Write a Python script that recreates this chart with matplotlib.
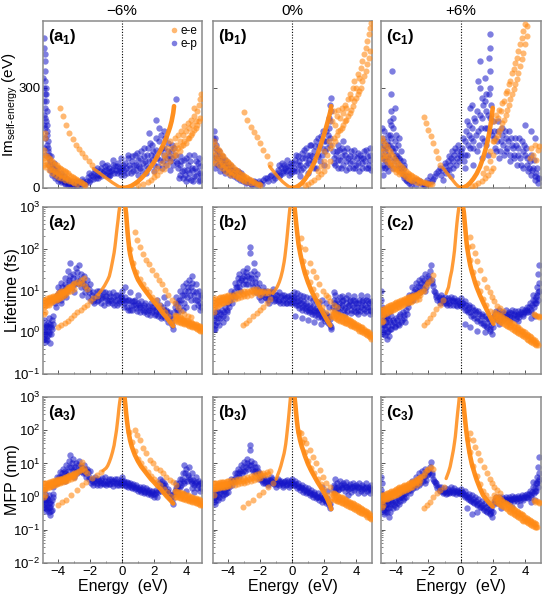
import matplotlib
matplotlib.use("Agg")
import matplotlib.pyplot as plt
from matplotlib.lines import Line2D
from matplotlib.ticker import LogLocator, NullFormatter, FixedLocator
import matplotlib.transforms as mtransforms

plt.rcParams['font.family'] = ['Liberation Sans', 'DejaVu Sans']
plt.rcParams['mathtext.fontset'] = 'custom'
plt.rcParams['mathtext.rm'] = 'Liberation Sans'
plt.rcParams['mathtext.bf'] = 'Liberation Sans:bold'

# ---------------- data: (energy eV, value) ----------------
COLUMNS = ["\u22126%", "0%", "+6%"]
ROW_LABELS = ["Im$_{\\mathregular{self\u2010energy}}$ (eV)", "Lifetime (fs)", "MFP (nm)"]
SERIES = ["e-e", "e-p"]

# ===== row 1: Im self-energy =====
A1_EE_L = [(-1.8,58),(-1.6,51),(-1.4,44),(-1.2,37),(-1.0,30),(-0.8,23),(-0.6,16),(-0.4,10),(-0.2,4),(0.0,1)]
A1_EE_R = [(0.0,1),(0.2,1),(0.4,3),(0.6,7),(0.8,13),(1.0,20),(1.2,29),(1.4,39),(1.6,51),(1.8,64),(2.0,78),(2.2,94),(2.4,112),(2.6,132),(2.8,155),(2.9,168),(3.0,182),(3.1,200),(3.2,225),(3.25,245)]
A1_EE = [(-4.9,115),(-4.9,90),(-4.9,70),(-4.85,150),(-4.85,165),(-4.8,100),(-4.8,80),(-4.8,62),(-4.7,95),(-4.7,72),(-4.6,90),(-4.6,68),(-4.6,54),(-4.5,86),(-4.5,64),(-4.4,80),(-4.4,58),(-4.4,46),(-4.3,76),(-4.3,54),(-4.2,72),(-4.2,50),(-4.2,40),(-4.1,68),(-4.1,47),(-4.0,64),(-4.0,44),(-4.0,34),(-3.9,60),(-3.9,41),(-3.8,57),(-3.8,38),(-3.8,29),(-3.7,54),(-3.7,35),(-3.6,50),(-3.6,32),(-3.6,25),(-3.5,47),(-3.5,29),(-3.4,44),(-3.4,26),(-3.3,40),(-3.3,22),(-3.2,37),(-3.2,20),(-3.1,34),(-3.1,18),(-3.0,30),(-3.0,15),(-2.9,27),(-2.8,24),(-2.8,12),(-2.7,21),(-2.6,18),(-2.5,15),(-2.4,12),(-2.3,10),
         (-3.9,240),(-3.7,215),(-3.5,190),(-3.3,165),(-3.1,148),(-2.9,130),(-2.7,118),(-2.5,105),(-2.3,92),(-2.1,80),(-1.9,70),
         (1.0,8),(1.3,12),(1.6,18),(1.8,25),(2.0,32),(2.2,40),(2.4,50),(2.6,58),(2.8,70),(3.0,82),(3.2,95),(2.2,60),(2.5,75),(2.7,90),(2.9,105),(3.1,120),(2.0,48),(2.6,100),(2.8,120),(3.0,140),
         (3.3,110),(3.3,150),(3.4,100),(3.4,130),(3.5,120),(3.5,160),(3.6,110),(3.6,140),(3.7,125),(3.7,170),(3.8,130),(3.8,160),(3.9,140),(3.9,185),(4.0,135),(4.0,170),(4.1,150),(4.1,195),(4.2,150),(4.2,180),(4.3,160),(4.3,205),(4.4,165),(4.4,190),(4.5,175),(4.5,215),(4.6,180),(4.6,200),(4.7,190),(4.7,230),(4.8,200),(4.8,250),(4.9,210),(4.9,265),(4.95,280),(4.5,240)]
A1_EP = [(-4.9,450),(-4.9,420),(-4.85,400),(-4.85,380),(-4.8,350),(-4.8,320),(-4.9,300),(-4.85,280),(-4.75,260),(-4.8,240),(-4.9,220),(-4.75,200),(-4.8,180),(-4.7,160),(-4.85,150),(-4.7,130),(-4.9,120),(-4.65,110),(-4.8,100),(-4.6,90),(-4.75,300),(-4.7,230),(-4.9,190),(-4.65,140),
         (-4.92,330),(-4.88,260),(-4.83,210),(-4.78,280),(-4.72,190),(-4.68,170),(-4.62,120),(-4.55,100),(-4.58,70),(-4.5,55),(-4.45,95),
         (-4.5,80),(-4.4,70),(-4.3,60),(-4.2,55),(-4.1,45),(-4.0,40),(-3.9,35),(-3.8,30),(-3.7,25),(-3.6,22),(-3.5,18),(-3.4,15),(-3.3,14),(-3.2,12),(-4.4,40),(-4.2,30),(-4.0,22),(-3.8,18),(-3.6,14),(-3.4,10),
         (-4.35,45),(-4.25,75),(-4.15,35),(-4.05,60),(-3.95,28),(-3.85,45),(-3.75,20),(-3.65,35),(-3.55,12),(-3.45,28),(-3.35,22),(-3.25,8),(-3.15,20),
         (-3.0,10),(-2.8,8),(-2.6,12),(-2.4,15),(-2.2,20),(-2.0,25),(-1.8,35),(-1.6,40),(-2.9,20),(-2.5,28),(-2.1,45),(-1.7,55),
         (-3.1,6),(-2.95,15),(-2.85,5),(-2.7,18),(-2.55,8),(-2.45,22),(-2.3,12),(-2.15,32),(-2.05,18),(-1.95,40),(-1.85,28),(-1.75,45),(-1.65,30),(-1.55,60),(-1.45,40),
         (-1.4,50),(-1.3,60),(-1.2,45),(-1.1,65),(-1.0,55),(-0.9,40),(-0.8,60),(-0.7,50),(-0.6,70),(-0.5,45),(-0.4,55),(-0.3,65),(-0.2,50),(-0.1,40),(0.0,60),(-1.5,30),(-0.8,35),(-0.1,90),
         (-1.35,35),(-1.25,75),(-1.15,50),(-1.05,40),(-0.95,70),(-0.85,50),(-0.75,40),(-0.65,55),(-0.55,85),(-0.45,65),(-0.35,45),(-0.25,75),(-0.15,60),(-0.05,50),
         (0.1,55),(0.2,75),(0.3,45),(0.4,90),(0.5,60),(0.6,80),(0.7,50),(0.8,100),(0.9,70),(1.0,85),(1.1,60),(1.2,110),(1.3,75),(1.4,95),(1.5,65),(1.6,120),(1.7,80),(1.8,100),(1.9,130),(2.0,70),(2.1,115),(2.2,90),(2.3,140),(2.4,85),(2.5,120),(2.6,100),(2.7,150),(2.8,90),(2.9,110),(3.0,80),(3.1,130),(3.2,70),(3.3,100),(2.15,205),(2.3,180),(3.4,265),(1.0,40),(1.5,45),(2.0,50),(2.5,60),(3.0,55),
         (0.05,70),(0.15,40),(0.25,60),(0.35,100),(0.45,70),(0.55,45),(0.65,95),(0.75,70),(0.85,55),(0.95,105),(1.05,65),(1.15,90),(1.25,50),(1.35,120),(1.45,80),(1.55,100),(1.65,60),(1.75,135),(1.85,85),(1.95,110),(2.05,95),(2.15,150),(2.25,65),(2.35,110),(2.45,160),(2.55,80),(2.65,120),(2.75,70),(2.85,135),(2.95,95),(3.05,110),(3.15,90),(3.25,120),(3.35,80),(1.7,165),(2.6,170),
         (3.5,60),(3.6,40),(3.7,80),(3.8,30),(3.9,55),(4.0,20),(4.1,70),(4.2,45),(4.3,25),(4.4,60),(4.5,35),(4.6,80),(4.7,50),(4.8,20),(4.9,65),(4.95,40),(3.6,95),(4.0,90),(4.5,100),
         (3.45,75),(3.55,30),(3.65,70),(3.75,50),(3.85,85),(3.95,40),(4.05,55),(4.15,30),(4.25,80),(4.35,55),(4.45,20),(4.55,60),(4.65,35),(4.75,75),(4.85,45),(4.9,25),(4.2,100),(4.8,90)]

B1_EE_L = [(-1.4,64),(-1.2,52),(-1.0,40),(-0.8,29),(-0.6,19),(-0.4,11),(-0.2,4),(0.0,1)]
B1_EE_R = [(0.0,1),(0.2,1.6),(0.4,6.4),(0.6,14),(0.8,26),(1.0,40),(1.2,58),(1.4,78),(1.6,102),(1.8,130),(2.0,160),(2.2,194),(2.3,212),(2.4,230),(2.45,245)]
B1_EE = [(-4.9,140),(-4.9,110),(-4.9,85),(-4.8,130),(-4.8,100),(-4.8,75),(-4.7,120),(-4.7,92),(-4.6,115),(-4.6,88),(-4.6,68),(-4.5,108),(-4.5,82),(-4.4,100),(-4.4,76),(-4.4,60),(-4.3,95),(-4.3,70),(-4.2,88),(-4.2,65),(-4.2,52),(-4.1,82),(-4.1,60),(-4.0,78),(-4.0,56),(-4.0,45),(-3.9,72),(-3.9,52),(-3.8,68),(-3.8,48),(-3.8,40),(-3.7,62),(-3.7,44),(-3.6,58),(-3.6,40),(-3.5,54),(-3.5,36),(-3.4,50),(-3.4,33),(-3.3,46),(-3.3,30),(-3.2,42),(-3.2,27),(-3.1,38),(-3.1,24),(-3.0,35),(-3.0,21),(-2.9,32),(-2.8,29),(-2.8,18),(-2.7,26),(-2.6,23),(-2.6,15),(-2.5,20),(-2.4,18),(-2.3,15),(-2.2,13),(-2.1,11),(-2.0,10),
         (-3.0,229),(-2.8,205),(-2.6,184),(-2.4,168),(-2.2,152),(-2.0,135),(-1.8,115),(-1.6,95),(-1.4,72),
         (0.8,8),(1.0,12),(1.2,18),(1.4,25),(1.6,32),(1.8,42),(2.0,52),(2.2,65),(2.4,80),(1.6,50),(1.8,65),(2.0,80),(2.2,100),(2.4,120),(2.0,110),(2.3,140),
         (2.5,130),(2.5,200),(2.6,150),(2.6,230),(2.7,140),(2.7,190),(2.8,160),(2.8,215),(2.9,170),(2.9,235),(3.0,175),(3.0,210),(3.1,180),(3.1,240),(3.2,190),(3.2,225),(3.3,200),(3.3,250),(3.4,205),(3.4,240),(3.5,215),(3.5,265),(3.6,225),(3.6,280),(3.7,235),(3.7,270),(3.8,245),(3.8,300),(3.9,260),(3.9,320),(4.0,270),(4.0,300),(4.1,280),(4.1,340),(4.2,290),(4.2,330),(4.3,300),(4.3,360),(4.4,320),(4.4,380),(4.5,335),(4.5,400),(4.6,350),(4.6,420),(4.7,370),(4.7,440),(4.8,390),(4.8,460),(4.9,410),(4.9,480),(4.95,495)]
B1_EP = [(-4.9,170),(-4.9,140),(-4.85,120),(-4.8,100),(-4.75,130),(-4.7,90),(-4.6,110),(-4.5,80),(-4.4,95),(-4.3,70),(-4.2,85),(-4.1,60),(-4.0,75),(-3.9,55),(-3.8,65),(-3.7,45),(-3.6,55),(-3.5,40),(-3.4,50),(-3.3,35),(-3.2,45),(-3.1,30),(-4.8,60),(-4.5,50),(-4.2,45),(-3.9,40),
         (-4.92,150),(-4.88,90),(-4.83,150),(-4.78,75),(-4.72,115),(-4.65,70),(-4.55,95),(-4.45,65),(-4.35,85),(-4.25,55),(-4.15,75),(-4.05,50),(-3.95,65),(-3.85,45),(-3.75,55),(-3.65,35),(-3.55,50),(-3.45,30),(-3.35,45),(-3.25,25),(-3.15,35),(-3.05,20),
         (-3.0,25),(-2.8,18),(-2.6,12),(-2.4,20),(-2.2,10),(-2.0,15),(-1.8,25),(-1.6,30),(-1.4,35),(-1.2,25),
         (-2.9,15),(-2.7,25),(-2.5,10),(-2.3,18),(-2.1,22),(-1.9,12),(-1.7,30),(-1.5,22),(-1.3,40),(-1.1,30),
         (-1.0,40),(-0.9,55),(-0.8,35),(-0.7,60),(-0.6,45),(-0.5,70),(-0.4,50),(-0.3,65),(-0.2,40),(-0.1,75),(0.0,55),
         (-0.95,45),(-0.85,70),(-0.75,40),(-0.65,75),(-0.55,50),(-0.45,60),(-0.35,85),(-0.25,55),(-0.15,65),(-0.05,45),
         (0.1,60),(0.2,85),(0.3,50),(0.4,95),(0.5,70),(0.6,105),(0.7,60),(0.8,90),(0.9,120),(1.0,75),(1.1,100),(1.2,130),(1.3,80),(1.4,110),(1.5,140),(1.6,95),(1.7,125),(1.8,155),(1.9,100),(2.0,140),(2.1,170),(2.2,120),(2.3,180),(2.4,150),(2.45,230),(2.45,270),(2.4,200),(0.5,35),(1.0,45),(1.5,60),(2.0,70),
         (0.05,75),(0.15,50),(0.25,100),(0.35,70),(0.45,80),(0.55,55),(0.65,90),(0.75,115),(0.85,70),(0.95,100),(1.05,85),(1.15,130),(1.25,95),(1.35,60),(1.45,125),(1.55,100),(1.65,150),(1.75,80),(1.85,120),(1.95,170),(2.05,110),(2.15,140),(2.25,160),(2.35,130),(2.4,250),(2.3,210),
         (2.6,90),(2.7,70),(2.8,110),(2.9,60),(3.0,85),(3.1,120),(3.2,70),(3.3,100),(3.4,55),(3.5,90),(3.6,75),(3.7,110),(3.8,60),(3.9,95),(4.0,70),(4.1,105),(4.2,50),(4.3,90),(4.4,75),(4.5,110),(4.6,60),(4.7,95),(4.8,70),(4.9,100),(4.95,55),(3.2,140),(2.9,130),
         (2.55,110),(2.65,75),(2.75,100),(2.85,85),(2.95,115),(3.05,60),(3.15,95),(3.25,110),(3.35,80),(3.45,120),(3.55,60),(3.65,95),(3.75,80),(3.85,115),(3.95,60),(4.05,90),(4.15,75),(4.25,100),(4.35,60),(4.45,90),(4.55,80),(4.65,115),(4.75,60),(4.85,85),(4.9,120)]

C1_EE_L = [(-1.1,60),(-0.9,48),(-0.7,36),(-0.5,24),(-0.3,12),(-0.1,3),(0.0,1)]
C1_EE_R = [(0.0,1),(0.2,2),(0.4,7),(0.6,16),(0.8,28),(1.0,43),(1.2,63),(1.4,90),(1.6,124),(1.7,145),(1.8,170),(1.9,200),(2.0,240)]
C1_EE = [(-4.9,150),(-4.9,120),(-4.9,95),(-4.8,140),(-4.8,110),(-4.8,88),(-4.7,132),(-4.7,100),(-4.6,125),(-4.6,95),(-4.6,78),(-4.5,118),(-4.5,88),(-4.4,110),(-4.4,82),(-4.4,68),(-4.3,102),(-4.3,76),(-4.2,95),(-4.2,70),(-4.2,58),(-4.1,88),(-4.1,64),(-4.0,82),(-4.0,58),(-4.0,48),(-3.9,76),(-3.9,54),(-3.8,70),(-3.8,50),(-3.8,42),(-3.7,65),(-3.7,46),(-3.6,60),(-3.6,42),(-3.5,55),(-3.5,38),(-3.4,50),(-3.4,34),(-3.3,46),(-3.3,30),(-3.2,42),(-3.2,27),(-3.1,38),(-3.1,24),(-3.0,35),(-3.0,22),(-2.9,32),(-2.8,29),(-2.8,19),(-2.7,26),(-2.6,24),(-2.6,16),(-2.5,21),(-2.4,19),(-2.3,17),(-2.2,15),(-2.1,14),(-2.0,13),(-1.9,12),(-1.8,11),
         (-2.3,214),(-2.15,195),(-2.0,174),(-1.85,155),(-1.7,134),(-1.55,112),(-1.4,89),(-1.25,70),
         (0.7,6),(0.9,10),(1.1,15),(1.3,22),(1.5,30),(1.7,40),(1.9,52),(2.0,60),(1.4,45),(1.6,60),(1.8,80),(2.0,100),(1.8,110),(2.0,140),
         (2.1,140),(2.1,200),(2.2,150),(2.2,220),(2.3,160),(2.3,210),(2.4,170),(2.4,235),(2.5,180),(2.5,230),(2.6,195),(2.6,255),(2.7,205),(2.7,260),(2.8,220),(2.8,285),(2.9,235),(2.9,290),(3.0,250),(3.0,310),(3.1,265),(3.1,320),(3.2,280),(3.2,345),(3.3,295),(3.3,355),(3.4,310),(3.4,375),(3.5,325),(3.5,390),(3.6,345),(3.6,410),(3.7,365),(3.7,430),(3.8,385),(3.8,450),(3.9,405),(3.9,470),(4.0,430),(4.0,490),(4.1,455),(4.15,485),
         (4.3,90),(4.4,120),(4.5,100),(4.6,130),(4.7,85),(4.8,115),(4.9,125)]
C1_EP = [(-4.9,180),(-4.9,120),(-4.9,60),(-4.85,150),(-4.8,90),(-4.8,40),(-4.75,170),(-4.7,110),(-4.7,60),(-4.6,140),(-4.6,80),(-4.5,160),(-4.5,100),(-4.5,50),(-4.4,200),(-4.4,130),(-4.4,70),(-4.25,350),(-4.3,280),(-4.3,230),(-4.3,150),(-4.2,180),(-4.2,110),(-4.2,60),(-4.1,240),(-4.1,140),(-4.1,90),(-4.0,160),(-4.0,100),(-3.9,130),(-3.9,70),(-3.8,150),(-3.8,90),(-3.7,110),(-3.7,60),(-3.6,80),(-3.6,40),(-3.5,60),(-3.5,30),
         (-4.92,140),(-4.88,100),(-4.83,70),(-4.78,130),(-4.72,85),(-4.65,120),(-4.58,65),(-4.52,130),(-4.45,90),(-4.38,160),(-4.32,190),(-4.28,120),(-4.22,210),(-4.15,80),(-4.05,120),(-3.95,95),(-3.85,60),(-3.75,85),(-3.65,50),(-3.55,70),(-3.45,40),(-3.35,20),
         (-3.4,25),(-3.2,15),(-3.0,20),(-2.8,10),(-2.6,18),(-2.4,12),(-2.2,8),(-2.0,15),(-3.3,35),(-2.7,25),
         (-3.1,10),(-2.9,25),(-2.5,20),(-2.3,10),(-2.1,25),(-1.9,35),(-1.7,28),(-1.5,45),(-1.3,60),
         (-1.8,20),(-1.6,35),(-1.4,50),(-1.2,40),(-1.0,65),(-0.9,45),(-0.8,80),(-0.7,55),(-0.6,90),(-0.5,60),(-0.4,100),(-0.3,70),(-0.2,110),(-0.1,80),(0.0,95),(-1.1,25),(-0.6,35),
         (-1.15,55),(-0.95,75),(-0.85,55),(-0.75,95),(-0.65,70),(-0.55,110),(-0.45,80),(-0.35,120),(-0.25,90),(-0.15,130),(-0.05,100),
         (0.1,120),(0.2,80),(0.3,140),(0.4,100),(0.5,160),(0.6,240),(0.6,120),(0.7,180),(0.8,140),(0.9,200),(1.0,110),(1.1,170),(1.2,380),(1.2,300),(1.2,220),(1.3,150),(1.4,250),(1.5,180),(1.6,280),(1.6,130),(1.7,220),(1.8,460),(1.8,420),(1.8,350),(1.8,170),(1.9,250),(2.0,200),(0.3,60),(0.8,70),(1.3,90),(1.7,100),(1.5,330),(1.3,270),
         (0.05,110),(0.15,150),(0.25,100),(0.35,170),(0.45,130),(0.55,190),(0.65,150),(0.75,120),(0.85,210),(0.95,160),(1.05,230),(1.15,130),(1.25,180),(1.35,210),(1.45,140),(1.55,230),(1.65,180),(1.75,280),(1.85,210),(1.95,160),(1.75,390),(1.85,300),(1.1,320),(1.5,260),(0.4,200),(0.7,250),
         (2.1,150),(2.2,110),(2.3,170),(2.4,90),(2.5,140),(2.6,180),(2.7,100),(2.8,150),(2.9,120),(3.0,170),(3.1,80),(3.2,130),(3.3,100),(3.4,150),(3.5,70),(3.6,120),(3.7,90),(3.8,140),(3.9,60),(4.0,190),(4.0,100),
         (2.05,170),(2.15,120),(2.25,140),(2.35,200),(2.45,110),(2.55,160),(2.65,130),(2.75,170),(2.85,110),(2.95,140),(3.05,100),(3.15,150),(3.25,120),(3.35,90),(3.45,130),(3.55,100),(3.65,150),(3.75,70),(3.85,110),(3.95,130),
         (4.1,70),(4.2,50),(4.3,80),(4.4,40),(4.5,60),(4.6,25),(4.7,45),(4.8,15),(4.85,30),(4.4,170),(4.6,150),
         (4.05,120),(4.15,90),(4.25,60),(4.35,100),(4.45,55),(4.55,85),(4.65,35),(4.75,60),(4.8,30)]

# ===== row 2: lifetime (fs) =====
A2_EE_L = [(-1.5,8),(-1.3,10),(-1.1,13),(-0.9,18),(-0.8,22),(-0.7,32),(-0.6,50),(-0.5,80),(-0.45,110),(-0.4,160),(-0.35,240),(-0.3,350),(-0.25,500),(-0.2,750),(-0.15,1000)]
A2_EE_R = [(0.2,1000),(0.25,700),(0.3,400),(0.35,230),(0.4,150),(0.45,100),(0.5,75),(0.6,50),(0.7,36),(0.8,28),(0.9,22),(1.0,18),(1.2,13.5),(1.4,10.5),(1.6,8.3),(1.8,6.6),(2.0,5.3),(2.2,4.3),(2.4,3.4),(2.6,2.7),(2.8,2.2),(3.0,1.75),(3.2,1.4)]
A2_EE = [(-4.9,6),(-4.9,4),(-4.9,2.8),(-4.8,6),(-4.8,4.2),(-4.8,3),(-4.7,6.5),(-4.7,4.4),(-4.6,6.5),(-4.6,4.6),(-4.5,7),(-4.5,5),(-4.4,7),(-4.4,5.2),(-4.3,7.5),(-4.3,5.5),(-4.2,7.5),(-4.2,5.8),(-4.1,8),(-4.1,6),(-4.0,8.5),(-4.0,6.2),(-3.9,9),(-3.9,6.5),(-3.8,9.5),(-3.8,7),(-3.7,10),(-3.7,7.5),(-3.6,10),(-3.6,8),(-3.5,11),(-3.5,8.5),(-3.4,12),(-3.4,9),(-3.3,12),(-3.2,13),(-3.2,10),(-3.1,14),(-3.0,15),(-3.0,11),(-2.8,16),(-2.7,14),(-2.6,18),(-2.5,15),(-2.4,20),(-2.3,13),(-2.2,11),
         (-4.85,5),(-4.75,5.3),(-4.65,5.5),(-4.55,5.8),(-4.45,6),(-4.35,6.4),(-4.25,6.6),(-4.15,7),(-4.05,7.3),(-3.95,7.7),(-3.85,8.2),(-3.75,8.7),(-3.65,9),(-3.55,9.6),(-3.45,10.3),(-3.35,10.8),(-3.25,11.5),(-3.15,12),
         (-4.0,1.3),(-3.8,1.5),(-3.6,1.7),(-3.4,1.9),(-3.2,2.2),(-3.0,2.6),(-2.8,3.0),(-2.6,3.5),(-2.4,4.0),(-2.2,4.6),(-2.0,5.5),(-1.8,6.5),(-1.6,7.5),
         (0.5,100),(0.7,45),(0.9,28),(1.1,19),(1.3,14.5),(1.5,11),(1.7,9),(1.9,7),(2.1,5.8),(2.3,4.6),(2.5,3.7),(2.7,3.0),(2.9,2.4),(3.1,1.9),
         (3.3,2.6),(3.3,2.0),(3.4,2.5),(3.4,1.9),(3.5,2.4),(3.5,1.8),(3.6,2.3),(3.6,1.75),(3.7,2.2),(3.7,1.7),(3.8,2.1),(3.8,1.65),(3.9,2.0),(3.9,1.6),(4.0,1.95),(4.0,1.55),(4.1,1.9),(4.1,1.5),(4.2,1.8),(4.2,1.45),(4.3,1.75),(4.3,1.4),(4.4,1.7),(4.4,1.35),(4.5,1.6),(4.5,1.3),(4.6,1.55),(4.6,1.25),(4.7,1.5),(4.7,1.2),(4.8,1.45),(4.8,1.15),(4.9,1.4),(4.9,1.1),(5.0,1.05),
         (3.35,2.25),(3.55,2.1),(3.75,1.95),(3.95,1.8),(4.15,1.65),(4.35,1.55),(4.55,1.45),(4.75,1.35),(4.95,1.25),
         (0.8,257),(0.95,160),(1.1,112),(1.3,75),(1.5,54),(1.7,42),(1.9,31),(2.1,24),(2.3,18),(2.5,14),(2.7,10.5),(2.9,8),(3.1,6),(3.3,5),(3.5,4),(3.7,3.3),(3.9,2.8),(4.1,2.5),(4.3,2.3)]
A2_EP = [(-4.9,1.0),(-4.9,0.7),(-4.85,1.3),(-4.8,0.9),(-4.8,0.6),(-4.75,1.5),(-4.7,1.1),(-4.7,0.8),(-4.6,1.3),(-4.6,0.9),(-4.5,1.6),(-4.5,0.55),(-4.4,1.2),(-4.4,2.0),(-4.3,2.5),(-4.9,2.0),(-4.6,2.2),
         (-4.92,1.4),(-4.88,0.8),(-4.82,1.1),(-4.78,0.7),(-4.72,1.4),(-4.68,0.65),(-4.62,1.7),(-4.55,1.0),(-4.48,1.3),(-4.42,0.9),(-4.35,1.6),
         (-4.2,5),(-4.1,8),(-4.0,12),(-3.9,7),(-3.8,15),(-3.7,10),(-3.6,20),(-3.5,12),(-3.4,30),(-3.3,18),(-3.25,45),(-3.1,25),(-3.0,15),(-2.9,35),(-2.8,20),(-2.7,40),(-2.6,25),(-2.5,15),(-2.4,22),(-2.3,12),(-2.2,18),(-2.1,9),(-2.0,14),(-3.8,5),(-3.5,7),(-3.0,9),(-2.5,8),
         (-4.15,4),(-4.05,6),(-3.95,9),(-3.85,6),(-3.75,12),(-3.65,8),(-3.55,14),(-3.45,10),(-3.35,16),(-3.25,22),(-3.15,12),(-3.05,20),(-2.95,14),(-2.85,28),(-2.75,15),(-2.65,18),(-2.55,12),(-2.45,16),(-2.35,9),(-2.25,13),(-2.15,7),(-2.05,11),
         (-1.9,8),(-1.8,5.5),(-1.7,7),(-1.6,10),(-1.5,6),(-1.4,8),(-1.3,5),(-1.2,9),(-1.1,6.5),(-1.0,7.5),(-0.9,5),(-0.8,8.5),(-0.7,6),(-0.6,7),(-0.5,4.5),(-0.4,8),(-0.3,6),(-0.2,5),(-0.1,7),(0.0,10),(0.0,6),
         (-1.95,6),(-1.85,9),(-1.75,5),(-1.65,7),(-1.55,5.5),(-1.45,10),(-1.35,6.5),(-1.25,7),(-1.15,4.5),(-1.05,9),(-0.95,6),(-0.85,5.5),(-0.75,7.5),(-0.65,5),(-0.55,9),(-0.45,6),(-0.35,4.5),(-0.25,8),(-0.15,5.5),(-0.05,7.5),
         (0.1,5),(0.2,7),(0.3,4),(0.4,6),(0.5,3.5),(0.6,5.5),(0.7,4.5),(0.8,6),(0.9,3.8),(1.0,5),(1.1,4),(1.2,5.5),(1.3,3.5),(1.4,4.5),(1.5,3.2),(1.6,4.2),(1.7,3.5),(1.8,5),(1.9,3),(2.0,4),(2.1,2.8),(2.2,3.8),(2.3,3),(2.4,4.5),(2.5,2.5),(2.6,3.5),(2.7,2.2),(2.8,3),(2.9,1.8),(3.0,2.5),(3.1,1.5),(3.2,1.2),(2.2,6),(2.6,7),(2.8,5),(1.0,8),(0.5,9),(0.2,12),
         (0.05,6),(0.15,4),(0.25,5.5),(0.35,3.5),(0.45,6),(0.55,4.5),(0.65,3.5),(0.75,5.5),(0.85,4.5),(0.95,3.2),(1.05,4.5),(1.15,3),(1.25,4),(1.35,3),(1.45,5),(1.55,2.8),(1.65,3.8),(1.75,2.6),(1.85,3.5),(1.95,4.2),(2.05,2.6),(2.15,3.2),(2.25,2.4),(2.35,3.5),(2.45,2.2),(2.55,4),(2.65,2.6),(2.75,3.5),(2.85,2.2),(2.95,3),(3.05,1.8),(3.15,2.2),
         (3.3,4),(3.4,7),(3.5,5),(3.6,10),(3.7,6),(3.8,13),(3.9,8),(4.0,15),(4.1,10),(4.2,18),(4.3,12),(4.4,22),(4.5,8),(4.6,14),(4.7,6),(4.8,10),(4.9,5),(4.95,8),(3.5,3),(4.0,4),(4.5,4),(4.9,3.5),(4.3,6),(3.8,3.5),
         (3.25,3),(3.35,5),(3.45,3.5),(3.55,6),(3.65,4),(3.75,8),(3.85,5),(3.95,10),(4.05,7),(4.15,12),(4.25,8),(4.35,15),(4.45,10),(4.55,6),(4.65,9),(4.75,4.5),(4.85,7),(4.92,4)]

B2_EE_L = [(-1.2,8.5),(-1.0,11),(-0.9,13),(-0.8,16),(-0.7,21),(-0.6,30),(-0.5,48),(-0.45,65),(-0.4,95),(-0.35,140),(-0.3,220),(-0.25,350),(-0.2,550),(-0.15,850),(-0.12,1000)]
B2_EE_R = [(0.15,1000),(0.2,650),(0.25,420),(0.3,280),(0.35,190),(0.4,130),(0.5,80),(0.6,52),(0.7,36),(0.8,26),(0.9,20),(1.0,15.5),(1.2,10),(1.4,7),(1.6,5),(1.8,3.6),(2.0,2.6),(2.2,1.9),(2.4,1.45)]
B2_EE = [(-4.9,6),(-4.9,4),(-4.9,3),(-4.8,6.5),(-4.8,4.2),(-4.7,6),(-4.7,4),(-4.6,6.5),(-4.6,4.5),(-4.5,6.8),(-4.5,4.8),(-4.4,7),(-4.4,5),(-4.3,7),(-4.3,5),(-4.2,7.2),(-4.2,5.2),(-4.1,7.4),(-4.1,5.4),(-4.0,7.6),(-4.0,5.6),(-3.8,8),(-3.8,6),(-3.6,8.4),(-3.6,6.2),(-3.4,8.8),(-3.4,6.5),(-3.2,9),(-3.2,7),(-3.0,9.5),(-3.0,7.2),(-2.8,10),(-2.8,7.5),(-2.6,10.5),(-2.6,8),(-2.4,11),(-2.4,8.5),(-2.2,11),(-2.2,8.5),(-2.0,10),(-2.0,8),(-1.8,10),(-1.6,10),(-1.4,10),
         (-4.85,5),(-4.75,5.1),(-4.65,5.4),(-4.55,5.6),(-4.45,5.9),(-4.35,6),(-4.25,6.2),(-4.15,6.3),(-4.05,6.5),(-3.9,6.9),(-3.7,7.2),(-3.5,7.5),(-3.3,7.8),(-3.1,8.2),(-2.9,8.6),(-2.7,9),(-2.5,9.5),(-2.3,9.8),(-2.1,9.2),(-1.9,9),(-1.7,8.8),(-1.5,8.5),
         (-3.1,1.5),(-2.9,1.7),(-2.7,2.0),(-2.45,2.4),(-2.2,2.9),(-2.0,3.4),(-1.8,4.1),(-1.6,5),(-1.4,6.2),
         (0.5,110),(0.7,50),(0.9,27),(1.1,16),(1.3,11),(1.5,7.8),(1.7,5.6),(1.9,4.1),(2.1,3.0),(2.3,2.2),
         (2.5,3.2),(2.5,2.4),(2.6,3.0),(2.6,2.3),(2.7,2.9),(2.7,2.2),(2.8,2.8),(2.8,2.1),(2.9,2.7),(2.9,2.0),(3.0,2.6),(3.0,1.9),(3.1,2.5),(3.1,1.85),(3.2,2.4),(3.2,1.8),(3.3,2.3),(3.3,1.7),(3.4,2.2),(3.4,1.65),(3.5,2.1),(3.5,1.6),(3.6,2.0),(3.6,1.5),(3.7,1.9),(3.7,1.45),(3.8,1.8),(3.8,1.4),(3.9,1.7),(3.9,1.3),(4.0,1.6),(4.0,1.25),(4.1,1.5),(4.1,1.2),(4.2,1.45),(4.2,1.1),(4.3,1.35),(4.3,1.05),(4.4,1.3),(4.4,1.0),(4.5,1.2),(4.5,0.95),(4.6,1.1),(4.6,0.9),(4.7,1.05),(4.7,0.85),(4.8,1.0),(4.8,0.8),(4.9,0.9),(4.9,0.75),(4.95,0.7),
         (2.55,2.7),(2.75,2.5),(2.95,2.3),(3.15,2.15),(3.35,2.0),(3.55,1.85),(3.75,1.65),(3.95,1.5),(4.15,1.35),(4.35,1.2),(4.55,1.05),(4.75,0.95),
         (0.58,180),(0.79,100),(1.1,45),(1.3,30),(1.52,21),(1.7,14),(1.94,10),(2.1,8),(2.25,7),(2.4,5.5),(2.6,4.5),(2.8,4)]
B2_EP = [(-4.9,2),(-4.9,1.2),(-4.85,3),(-4.8,1.5),(-4.75,2.5),(-4.7,1.8),(-4.6,3),(-4.5,2.2),(-4.4,3.5),(-4.3,2.5),(-4.2,4),(-4.1,3),(-4.0,5),
         (-4.92,1.6),(-4.88,2.4),(-4.82,1.2),(-4.72,3.2),(-4.65,2.2),(-4.55,1.5),(-4.45,2.8),(-4.35,1.8),(-4.25,3),(-4.15,2.2),(-4.05,3.5),
         (-3.9,6),(-3.8,10),(-3.7,8),(-3.6,15),(-3.5,12),(-3.4,20),(-3.3,25),(-3.2,18),(-3.1,30),(-3.0,22),(-2.9,28),(-2.8,35),(-2.7,20),(-2.6,25),(-2.5,15),(-2.4,30),(-2.3,20),(-2.2,12),(-2.1,15),(-2.0,9),(-2.65,110),(-2.65,80),(-2.4,45),(-2.2,25),(-3.3,12),(-2.9,14),
         (-3.95,4),(-3.85,7),(-3.75,5),(-3.65,9),(-3.55,7),(-3.45,12),(-3.35,16),(-3.25,10),(-3.15,20),(-3.05,14),(-2.95,18),(-2.85,22),(-2.75,14),(-2.55,20),(-2.45,12),(-2.35,16),(-2.25,9),(-2.15,11),(-2.05,7),
         (-1.9,8),(-1.8,12),(-1.7,7),(-1.6,10),(-1.5,6),(-1.4,9),(-1.3,7),(-1.2,11),(-1.1,6),(-1.0,8),(-0.9,5.5),(-0.8,9),(-0.7,7),(-0.6,6),(-0.5,8),(-0.4,5),(-0.3,7),(-0.2,6),(-0.1,8),(0.0,5),
         (-1.95,6),(-1.85,9),(-1.75,10),(-1.65,6.5),(-1.55,8),(-1.45,5),(-1.35,7),(-1.25,9),(-1.15,5.5),(-1.05,6.5),(-0.95,8),(-0.85,6),(-0.75,5),(-0.65,8),(-0.55,5),(-0.45,6.5),(-0.35,5),(-0.25,7.5),(-0.15,5),(-0.05,6.5),
         (0.1,7),(0.2,5),(0.3,6.5),(0.4,4.5),(0.5,6),(0.6,4),(0.7,5.5),(0.8,3.8),(0.9,5),(1.0,3.5),(1.1,4.5),(1.2,3.2),(1.3,4.2),(1.4,3),(1.5,3.8),(1.6,2.7),(1.7,3.5),(1.8,2.5),(1.9,3.2),(2.0,2.2),(2.1,2.8),(2.2,2),(2.3,2.5),(2.4,1.5),(2.45,1.2),(1.9,6),(2.1,5),(2.3,4),
         (0.05,5.5),(0.15,6.5),(0.25,4.5),(0.35,5.5),(0.45,3.8),(0.55,5),(0.65,3.5),(0.75,4.5),(0.85,3.2),(0.95,4.2),(1.05,3),(1.15,3.8),(1.25,2.8),(1.35,3.5),(1.45,2.6),(1.55,3.2),(1.65,2.3),(1.75,3),(1.85,2.2),(1.95,2.8),(2.05,1.9),(2.15,2.4),(2.25,1.7),(2.35,2.1),(2.42,1.3),
         (0.1,9),(0.3,8.5),(0.5,8),(0.7,7.5),(0.9,7),(1.1,6.5),(1.3,6),(1.5,5.5),(1.7,5),(0.2,2.5),(0.6,2.2),(1.0,2.0),(1.4,1.8),(1.8,1.6),
         (2.6,5),(2.7,3.5),(2.8,6),(2.9,4),(3.0,7),(3.1,4.5),(3.2,6),(3.3,3.8),(3.4,6.5),(3.5,4.2),(3.6,5.5),(3.7,3.5),(3.8,6),(3.9,4),(4.0,5),(4.1,3.5),(4.2,6),(4.3,4),(4.4,5.5),(4.5,3.6),(4.6,6),(4.7,4),(4.8,5),(4.9,3.5),(4.95,5.5),(2.6,9),(3.0,3),(4.0,3),
         (2.55,4),(2.65,6),(2.75,4.5),(2.85,3.2),(2.95,5),(3.05,4),(3.15,5.5),(3.25,3.5),(3.35,5),(3.45,3.2),(3.55,4.5),(3.65,6),(3.75,4.5),(3.85,3.2),(3.95,5.5),(4.05,4),(4.15,5),(4.25,3.2),(4.35,4.5),(4.45,6),(4.55,4.5),(4.65,3.3),(4.75,5.5),(4.85,4),(4.92,3.2),
         (2.7,8),(3.1,7.5),(3.5,8),(3.9,7.5),(4.3,8),(4.7,7.5),(3.3,2.8),(3.7,2.9),(4.1,2.8),(4.5,2.9),(4.9,2.8)]

C2_EE_L = [(-0.9,8.5),(-0.75,12),(-0.65,20),(-0.55,30),(-0.45,55),(-0.38,90),(-0.33,150),(-0.28,250),(-0.23,400),(-0.18,600),(-0.13,850),(-0.1,1000)]
C2_EE_R = [(0.15,1000),(0.2,750),(0.25,450),(0.3,280),(0.35,170),(0.4,112),(0.5,65),(0.6,40),(0.7,28),(0.8,21),(0.9,15.5),(1.0,12),(1.2,7.7),(1.4,5.2),(1.6,3.6),(1.8,2.5),(2.0,1.75),(2.05,1.6)]
C2_EE = [(-4.9,3.5),(-4.9,2.5),(-4.9,1.8),(-4.8,3.6),(-4.8,2.6),(-4.8,1.9),(-4.7,3.8),(-4.7,2.7),(-4.6,4),(-4.6,2.9),(-4.5,4.2),(-4.5,3),(-4.4,4.4),(-4.4,3.2),(-4.3,4.6),(-4.3,3.3),(-4.2,4.8),(-4.2,3.5),(-4.1,5),(-4.1,3.6),(-4.0,5.2),(-4.0,3.8),(-3.9,5.4),(-3.9,4),(-3.8,5.6),(-3.8,4.1),(-3.7,5.8),(-3.7,4.3),(-3.6,6),(-3.6,4.5),(-3.5,6.3),(-3.5,4.7),(-3.4,6.5),(-3.4,4.9),(-3.3,6.8),(-3.3,5),(-3.2,7),(-3.2,5.2),(-3.1,7.2),(-3.1,5.4),(-3.0,7.5),(-3.0,5.6),(-2.9,7.8),(-2.8,8),(-2.8,6),(-2.7,8.3),(-2.6,8.5),(-2.6,6.3),(-2.5,9),(-2.4,9.5),(-2.3,10),(-2.2,12),(-2.1,14),(-2.0,16),(-1.85,18),(-1.7,24),
         (-4.85,3),(-4.75,3.2),(-4.65,3.4),(-4.55,3.6),(-4.45,3.8),(-4.35,3.9),(-4.25,4.1),(-4.15,4.3),(-4.05,4.5),(-3.95,4.7),(-3.85,4.8),(-3.75,5),(-3.65,5.2),(-3.55,5.4),(-3.45,5.7),(-3.35,5.9),(-3.25,6.1),(-3.15,6.3),(-3.05,6.5),(-2.95,6.8),(-2.85,7),(-2.75,7.2),(-2.65,7.5),(-2.55,7.8),
         (-2.27,1.5),(-2.1,1.8),(-1.9,2.2),(-1.7,2.8),(-1.5,3.6),(-1.3,4.6),(-1.1,6),
         (0.45,110),(0.6,55),(0.8,28),(1.0,15),(1.2,9.5),(1.4,6.4),(1.6,4.5),(1.8,3.2),(2.0,2.3),
         (2.1,3.0),(2.1,2.2),(2.2,2.9),(2.2,2.1),(2.3,2.8),(2.3,2.0),(2.4,2.6),(2.4,1.9),(2.5,2.5),(2.5,1.8),(2.6,2.35),(2.6,1.7),(2.7,2.2),(2.7,1.6),(2.8,2.1),(2.8,1.5),(2.9,1.95),(2.9,1.4),(3.0,1.85),(3.0,1.35),(3.1,1.75),(3.1,1.3),(3.2,1.65),(3.2,1.2),(3.3,1.55),(3.3,1.15),(3.4,1.45),(3.4,1.1),(3.5,1.35),(3.5,1.0),(3.6,1.3),(3.6,0.95),(3.7,1.2),(3.7,0.9),(3.8,1.1),(3.8,0.85),(3.9,1.05),(3.9,0.8),(4.0,1.0),(4.0,0.75),(4.1,0.9),(4.1,0.7),(4.2,0.85),(4.2,0.66),(4.3,0.8),(4.3,0.62),(4.4,0.75),(4.4,0.58),(4.5,0.7),(4.5,0.55),(4.6,0.65),(4.6,0.52),(4.7,0.6),(4.7,0.5),(4.8,0.5),
         (2.15,2.55),(2.35,2.35),(2.55,2.1),(2.75,1.9),(2.95,1.65),(3.15,1.5),(3.35,1.35),(3.55,1.2),(3.75,1.05),(3.95,0.9),(4.15,0.8),(4.35,0.7),(4.55,0.62),(4.75,0.55),
         (0.6,190),(0.7,115),(0.92,80),(1.05,50),(1.23,31),(1.45,19),(1.65,12),(1.8,9),(1.96,7),(2.1,5.5),(2.27,4.3),(2.45,3.8),(2.65,3.3),
         (4.55,2.8),(4.65,2.6),(4.75,2.4),(4.85,2.5),(4.9,2.3)]
C2_EP = [(-4.95,6),(-4.9,4),(-4.9,2),(-4.9,1.2),(-4.85,3),(-4.8,1.5),(-4.8,0.9),(-4.75,2.4),(-4.7,1.2),(-4.65,1.8),(-4.6,1.0),(-4.55,2.5),(-4.5,1.4),(-4.45,0.8),(-4.4,1.8),(-4.3,1.2),(-4.2,2),(-4.1,1.4),(-4.0,2.2),(-3.9,1.6),(-3.8,2.5),(-3.7,1.8),(-3.6,3),(-3.5,2.2),(-3.4,3.5),(-4.6,0.7),(-4.4,3.2),(-4.95,10),
         (-4.92,3),(-4.88,1.6),(-4.82,1.0),(-4.78,2),(-4.72,0.85),(-4.68,1.5),(-4.62,2.2),(-4.52,1.1),(-4.48,2),(-4.42,1.2),(-4.35,2.4),(-4.25,1.5),(-4.15,1.8),(-4.05,1.3),(-3.95,2),(-3.85,1.5),(-3.75,2.8),(-3.65,2),(-3.55,2.6),(-3.45,1.8),(-3.35,2.8),
         (-3.3,5),(-3.2,8),(-3.1,6),(-3.0,12),(-2.9,9),(-2.8,15),(-2.7,10),(-2.6,18),(-2.5,12),(-2.4,20),(-2.3,14),(-2.2,25),(-2.1,16),(-2.0,22),(-1.9,30),(-1.85,40),(-1.8,18),(-1.7,13),(-1.6,9),(-1.5,7),(-2.6,9),(-2.2,10),
         (-3.25,4),(-3.15,6),(-3.05,8),(-2.95,6),(-2.85,11),(-2.75,8),(-2.65,13),(-2.55,9),(-2.45,15),(-2.35,11),(-2.25,18),(-2.15,12),(-2.05,16),(-1.95,20),(-1.75,15),(-1.65,10),(-1.55,8),(-1.45,6),(-1.35,7),
         (-1.3,6),(-1.2,8),(-1.1,5.5),(-1.0,7),(-0.9,5),(-0.8,6.5),(-0.7,5),(-0.6,7),(-0.5,5.5),(-0.4,6.5),(-0.3,4.5),(-0.2,6),(-0.1,5),(0.0,6.5),
         (-1.25,5),(-1.15,6.5),(-1.05,5),(-0.95,6),(-0.85,4.5),(-0.75,6),(-0.65,4.5),(-0.55,6),(-0.45,4.5),(-0.35,5.5),(-0.25,4.2),(-0.15,5.5),(-0.05,4.5),
         (0.1,5),(0.2,4),(0.3,5.5),(0.4,3.5),(0.5,4.5),(0.6,3),(0.7,4),(0.8,2.6),(0.9,3.5),(1.0,2.2),(1.1,3.2),(1.2,2),(1.3,2.8),(1.4,1.7),(1.5,2.5),(1.6,1.4),(1.7,2.2),(1.8,1.2),(1.9,1.8),(1.95,0.9),(2.0,1.3),(0.6,1.3),(1.0,1.1),(1.5,1.0),(0.3,1.6),
         (0.05,4.2),(0.15,5),(0.25,3.5),(0.35,4.5),(0.45,3),(0.55,4),(0.65,2.5),(0.75,3.5),(0.85,2.2),(0.95,3),(1.05,1.9),(1.15,2.7),(1.25,1.7),(1.35,2.4),(1.45,1.5),(1.55,2.1),(1.65,1.3),(1.75,1.9),(1.85,1.1),(1.92,1.5),
         (2.1,2.5),(2.2,3.2),(2.3,2.2),(2.4,3.5),(2.5,2.4),(2.6,3),(2.7,2.2),(2.8,3.4),(2.9,2.5),(3.0,3.1),(3.1,2.3),(3.2,3.5),(3.3,2.6),(3.4,3.2),(3.5,2.4),(3.6,3.3),(3.7,2.7),(3.8,3.6),(3.9,2.8),(4.0,3.5),(2.4,1.6),(3.0,1.8),(3.6,1.9),
         (2.05,2.2),(2.15,2.8),(2.25,2),(2.35,2.8),(2.45,2.1),(2.55,2.7),(2.65,2),(2.75,2.8),(2.85,2.2),(2.95,2.7),(3.05,2.1),(3.15,2.9),(3.25,2.2),(3.35,2.8),(3.45,2.1),(3.55,2.7),(3.65,2.3),(3.75,3),(3.85,2.4),(3.95,3),
         (4.1,4),(4.2,3),(4.3,5),(4.4,3.5),(4.5,6),(4.5,8),(4.6,5),(4.7,7),(4.75,12),(4.8,9),(4.85,15),(4.85,40),(4.8,25),(4.4,2.2),(4.6,2.5),
         (4.05,3),(4.15,3.5),(4.25,4),(4.35,3),(4.45,4.5),(4.55,4),(4.65,6),(4.7,5),(4.75,8),(4.8,6),(4.85,10)]

# ===== row 3: mean free path (nm) =====
A3_EE_L = [(-1.2,6),(-1.0,7.2),(-0.9,8.5),(-0.8,11),(-0.7,15),(-0.6,22),(-0.5,35),(-0.45,50),(-0.4,70),(-0.35,100),(-0.3,160),(-0.25,260),(-0.2,450),(-0.15,700),(-0.1,1000)]
A3_EE_R = [(0.15,1000),(0.2,600),(0.25,330),(0.3,200),(0.35,130),(0.4,90),(0.5,50),(0.6,33),(0.7,24),(0.8,18),(1.0,11.5),(1.2,8),(1.4,6),(1.6,4.5),(1.8,3.4),(2.0,2.7),(2.2,2.1),(2.4,1.7),(2.6,1.3),(2.8,1.0),(3.0,0.8),(3.2,0.62)]
A3_EE = [(-4.9,2.5),(-4.9,1.6),(-4.9,1.0),(-4.8,2.5),(-4.8,1.7),(-4.8,1.1),(-4.7,2.6),(-4.7,1.8),(-4.6,2.7),(-4.6,1.9),(-4.5,2.8),(-4.5,2.0),(-4.4,2.9),(-4.4,2.1),(-4.3,3.0),(-4.3,2.2),(-4.2,3.1),(-4.2,2.3),(-4.1,3.2),(-4.1,2.4),(-4.0,3.3),(-4.0,2.5),(-3.9,3.4),(-3.9,2.6),(-3.8,3.5),(-3.8,2.7),(-3.7,3.6),(-3.7,2.8),(-3.6,3.8),(-3.6,2.9),(-3.5,4),(-3.5,3),(-3.4,4.2),(-3.4,3.1),(-3.3,4.4),(-3.2,4.6),(-3.2,3.4),(-3.1,4.8),(-3.0,5),(-3.0,3.7),(-2.9,5.3),(-2.8,5.6),(-2.7,6),(-2.6,6.5),(-2.5,7),(-2.4,7.5),(-2.3,6),(-2.2,5),(-2.5,11),(-2.6,9),
         (-4.85,2.0),(-4.75,2.1),(-4.65,2.2),(-4.55,2.35),(-4.45,2.45),(-4.35,2.55),(-4.25,2.7),(-4.15,2.8),(-4.05,2.9),(-3.95,3.0),(-3.85,3.1),(-3.75,3.2),(-3.65,3.35),(-3.55,3.5),(-3.45,3.6),(-3.35,3.8),(-3.25,4.0),(-3.15,4.1),(-3.05,4.3),(-2.95,4.5),
         (-4.0,0.56),(-3.75,0.68),(-3.5,0.8),(-3.2,1.1),(-2.85,1.6),(-2.5,2.2),(-2.23,2.8),(-1.9,3.6),(-1.6,4.5),(-1.3,5.6),
         (0.45,90),(0.6,45),(0.8,23),(1.0,14),(1.2,10),(1.4,7.5),(1.6,5.6),(1.8,4.3),(2.0,3.4),(2.2,2.7),(2.4,2.2),(2.6,1.7),(2.8,1.35),(3.0,1.05),
         (3.3,1.5),(3.3,1.0),(3.4,1.45),(3.4,0.98),(3.5,1.4),(3.5,0.95),(3.6,1.35),(3.6,0.92),(3.7,1.3),(3.7,0.9),(3.8,1.25),(3.8,0.87),(3.9,1.2),(3.9,0.84),(4.0,1.15),(4.0,0.8),(4.1,1.1),(4.1,0.78),(4.2,1.05),(4.2,0.75),(4.3,1.0),(4.3,0.72),(4.4,0.97),(4.4,0.7),(4.5,0.93),(4.5,0.67),(4.6,0.9),(4.6,0.64),(4.7,0.86),(4.7,0.62),(4.8,0.82),(4.8,0.6),(4.9,0.78),(4.9,0.57),(5.0,0.55),
         (3.35,1.22),(3.55,1.15),(3.75,1.08),(3.95,1.0),(4.15,0.93),(4.35,0.85),(4.55,0.78),(4.75,0.72),(4.95,0.66),
         (0.79,100),(0.95,70),(1.1,50),(1.3,30),(1.52,20),(1.75,13),(1.94,10),(2.15,7.5),(2.35,6.3),(2.55,5),(2.77,4),(3.0,3.2),(3.2,2.7),(3.4,2.3)]
A3_EP = [(-4.9,1.0),(-4.9,0.6),(-4.85,0.8),(-4.8,0.45),(-4.8,1.2),(-4.75,0.7),(-4.7,0.5),(-4.7,0.9),(-4.6,0.35),(-4.6,0.65),(-4.55,1.1),(-4.5,0.28),(-4.5,0.5),(-4.4,0.8),(-4.4,0.4),(-4.3,1.2),(-4.3,2),(-4.9,1.6),
         (-4.92,0.8),(-4.88,0.5),(-4.82,0.65),(-4.78,0.38),(-4.72,0.9),(-4.68,0.42),(-4.62,0.8),(-4.58,0.5),(-4.52,0.7),(-4.48,0.38),(-4.42,0.6),(-4.35,1.0),
         (-4.2,2.5),(-4.1,4),(-4.0,3),(-3.9,5.5),(-3.8,4),(-3.7,7),(-3.6,5),(-3.5,9),(-3.4,6),(-3.3,12),(-3.25,18),(-3.2,8),(-3.1,14),(-3.0,7),(-2.9,10),(-2.8,6),(-2.7,12),(-2.6,8),(-2.5,6),(-2.4,9),(-2.3,5),(-2.2,7),(-2.1,4),(-2.0,6),(-3.6,3),(-3.0,4),
         (-4.15,3),(-4.05,2.5),(-3.95,4),(-3.85,3),(-3.75,5),(-3.65,4),(-3.55,6),(-3.45,4.5),(-3.35,8),(-3.15,10),(-3.05,6),(-2.95,8),(-2.85,5),(-2.75,9),(-2.65,6),(-2.55,8),(-2.45,5),(-2.35,7),(-2.25,4),(-2.15,5.5),(-2.05,3.5),
         (-1.9,3),(-1.8,2.3),(-1.7,4),(-1.6,2.6),(-1.5,3.5),(-1.4,2.2),(-1.3,3.2),(-1.2,2.5),(-1.1,3.8),(-1.0,2.2),(-0.9,3),(-0.8,2.4),(-0.7,3.5),(-0.6,2.1),(-0.5,3),(-0.4,2.5),(-0.3,3.3),(-0.2,2.2),(-0.1,2.8),(0.0,3.8),(0.0,2.2),
         (-1.95,2.5),(-1.85,3.5),(-1.75,2.8),(-1.65,3.2),(-1.55,2.3),(-1.45,2.9),(-1.35,2.5),(-1.25,3.6),(-1.15,2.4),(-1.05,3),(-0.95,2.6),(-0.85,3.4),(-0.75,2.4),(-0.65,2.9),(-0.55,2.5),(-0.45,3.5),(-0.35,2.3),(-0.25,2.8),(-0.15,2.5),(-0.05,3.2),
         (0.1,3),(0.2,2.2),(0.3,2.8),(0.4,1.9),(0.5,2.6),(0.6,1.8),(0.7,2.4),(0.8,1.7),(0.9,2.2),(1.0,1.5),(1.1,2.0),(1.2,1.4),(1.3,1.9),(1.4,1.3),(1.5,1.8),(1.6,1.2),(1.7,1.6),(1.8,1.1),(1.9,1.5),(2.0,1.0),(2.1,1.4),(2.2,0.95),(2.3,2.5),(2.4,1.8),(2.5,3),(2.6,1.5),(2.7,2.2),(2.8,1.2),(2.9,1.7),(3.0,0.9),(3.1,1.1),(3.2,0.6),(2.4,3.5),(2.6,2.6),
         (0.05,2.5),(0.15,2.8),(0.25,2.1),(0.35,2.5),(0.45,2.2),(0.55,2.0),(0.65,2.2),(0.75,1.9),(0.85,1.8),(0.95,2.0),(1.05,1.7),(1.15,1.6),(1.25,1.7),(1.35,1.5),(1.45,1.4),(1.55,1.6),(1.65,1.4),(1.75,1.3),(1.85,1.4),(1.95,1.2),(2.05,1.2),(2.15,1.6),(2.25,1.4),(2.35,2.0),(2.45,1.5),(2.55,2.2),(2.65,1.8),(2.75,1.5),(2.85,1.4),(2.95,1.2),(3.05,1.0),(3.15,0.8),
         (3.3,1.5),(3.4,2.5),(3.5,1.8),(3.6,3.5),(3.7,2.2),(3.8,5),(3.9,3),(4.0,7),(4.1,4),(4.2,8),(4.3,3),(4.4,5),(4.5,2.2),(4.6,4),(4.7,1.8),(4.8,3),(4.9,1.5),(4.95,2.5),(3.5,1.3),(4.0,1.5),(4.5,1.4),(3.9,9),(4.4,1.8),
         (3.25,1.2),(3.35,1.8),(3.45,2.0),(3.55,2.6),(3.65,2.0),(3.75,3.5),(3.85,2.5),(3.95,5),(4.05,3),(4.15,4.5),(4.25,3.5),(4.35,2.5),(4.45,3.2),(4.55,2.5),(4.65,2.8),(4.75,2.2),(4.85,2.5),(4.92,1.8)]

B3_EE_L = [(-1.0,3.3),(-0.9,4.5),(-0.8,6),(-0.7,8.5),(-0.6,13),(-0.5,20),(-0.45,27),(-0.4,38),(-0.35,60),(-0.3,100),(-0.25,170),(-0.2,300),(-0.15,550),(-0.1,1000)]
B3_EE_R = [(0.15,1000),(0.2,600),(0.25,330),(0.3,190),(0.35,120),(0.4,85),(0.5,50),(0.6,33),(0.7,24),(0.8,17),(1.0,9.5),(1.2,6),(1.4,4),(1.6,2.7),(1.8,1.9),(2.0,1.3),(2.2,0.85),(2.4,0.5),(2.45,0.42)]
B3_EE = [(-4.9,2.5),(-4.9,1.7),(-4.9,1.1),(-4.8,2.5),(-4.8,1.7),(-4.7,2.6),(-4.7,1.8),(-4.6,2.6),(-4.6,1.8),(-4.5,2.7),(-4.5,1.9),(-4.4,2.7),(-4.4,1.9),(-4.3,2.8),(-4.3,2.0),(-4.2,2.8),(-4.2,2.0),(-4.1,2.9),(-4.1,2.1),(-4.0,3.0),(-4.0,2.1),(-3.8,3.1),(-3.8,2.2),(-3.6,3.2),(-3.6,2.3),(-3.4,3.4),(-3.4,2.4),(-3.2,3.5),(-3.2,2.5),(-3.0,3.7),(-3.0,2.6),(-2.8,3.9),(-2.8,2.8),(-2.6,4.1),(-2.6,3.0),(-2.4,4.4),(-2.4,3.2),(-2.2,4.7),(-2.2,3.4),(-2.0,5),(-2.0,3.6),(-1.8,5.3),(-1.6,5.6),(-1.4,6),
         (-4.85,2.0),(-4.75,2.1),(-4.65,2.15),(-4.55,2.2),(-4.45,2.25),(-4.35,2.3),(-4.25,2.35),(-4.15,2.4),(-4.05,2.45),(-3.9,2.6),(-3.7,2.7),(-3.5,2.8),(-3.3,2.9),(-3.1,3.05),(-2.9,3.2),(-2.7,3.4),(-2.5,3.6),(-2.3,3.8),(-2.1,4.1),(-1.9,4.4),(-1.7,4.6),(-1.5,4.9),
         (-3.06,0.5),(-2.75,0.63),(-2.44,0.8),(-2.1,1.1),(-1.8,1.4),(-1.5,1.9),(-1.19,2.5),
         (0.45,90),(0.6,45),(0.8,22),(1.0,12),(1.2,7.5),(1.4,5),(1.6,3.4),(1.8,2.4),(2.0,1.7),(2.2,1.15),(2.4,0.75),
         (2.5,1.3),(2.5,0.9),(2.6,1.25),(2.6,0.85),(2.7,1.2),(2.7,0.8),(2.8,1.1),(2.8,0.76),(2.9,1.05),(2.9,0.72),(3.0,1.0),(3.0,0.68),(3.1,0.95),(3.1,0.65),(3.2,0.9),(3.2,0.62),(3.3,0.85),(3.3,0.58),(3.4,0.8),(3.4,0.55),(3.5,0.75),(3.5,0.52),(3.6,0.7),(3.6,0.5),(3.7,0.66),(3.7,0.47),(3.8,0.62),(3.8,0.44),(3.9,0.58),(3.9,0.42),(4.0,0.55),(4.0,0.4),(4.1,0.52),(4.1,0.37),(4.2,0.49),(4.2,0.35),(4.3,0.46),(4.3,0.33),(4.4,0.43),(4.4,0.31),(4.5,0.4),(4.5,0.29),(4.6,0.37),(4.6,0.27),(4.7,0.34),(4.7,0.25),(4.8,0.31),(4.8,0.24),(4.9,0.28),(4.9,0.22),(4.95,0.21),
         (2.55,1.08),(2.75,0.98),(2.95,0.87),(3.15,0.78),(3.35,0.7),(3.55,0.62),(3.75,0.56),(3.95,0.49),(4.15,0.44),(4.35,0.39),(4.55,0.34),(4.75,0.3),
         (0.58,80),(0.75,55),(0.9,40),(1.1,25),(1.31,16),(1.5,10),(1.73,6.3),(1.95,4),(2.15,2.5),(2.35,2.0)]
B3_EP = [(-4.9,1.5),(-4.9,0.9),(-4.85,0.6),(-4.8,1.2),(-4.75,0.8),(-4.7,1.6),(-4.6,1.0),(-4.5,1.4),(-4.4,0.9),(-4.3,1.7),(-4.2,1.2),(-4.1,2),(-4.0,1.4),
         (-4.92,1.2),(-4.88,0.7),(-4.82,1.0),(-4.72,1.1),(-4.65,0.8),(-4.55,1.2),(-4.45,1.6),(-4.35,1.1),(-4.25,1.5),(-4.15,1.3),(-4.05,1.8),
         (-3.9,2.5),(-3.8,3.5),(-3.7,3),(-3.6,5),(-3.5,4),(-3.4,7),(-3.3,5),(-3.2,9),(-3.1,6),(-3.0,11),(-2.9,8),(-2.8,14),(-2.7,9),(-2.65,35),(-2.65,25),(-2.6,12),(-2.5,7),(-2.4,10),(-2.3,6),(-2.2,8),(-2.1,5),(-2.0,4),
         (-3.95,2),(-3.85,2.8),(-3.75,2.2),(-3.65,3.5),(-3.55,3),(-3.45,5),(-3.35,4),(-3.25,6),(-3.15,5),(-3.05,8),(-2.95,6),(-2.85,10),(-2.75,7),(-2.55,9),(-2.45,6),(-2.35,8),(-2.25,5),(-2.15,6),(-2.05,3.5),
         (-1.9,3),(-1.8,4),(-1.7,2.5),(-1.6,3.5),(-1.5,2.2),(-1.4,3.2),(-1.3,4),(-1.2,2.5),(-1.1,3),(-1.0,2),(-0.9,3.5),(-0.8,2.3),(-0.7,3),(-0.6,2),(-0.5,2.8),(-0.4,2.2),(-0.3,3.2),(-0.2,2),(-0.1,2.6),(0.0,3.4),
         (-1.95,3.5),(-1.85,2.6),(-1.75,3.2),(-1.65,2.8),(-1.55,3),(-1.45,2.5),(-1.35,2.9),(-1.25,3.4),(-1.15,2.4),(-1.05,2.8),(-0.95,2.4),(-0.85,3),(-0.75,2.5),(-0.65,2.6),(-0.55,2.3),(-0.45,2.9),(-0.35,2.4),(-0.25,2.7),(-0.15,2.2),(-0.05,2.9),
         (0.1,2.2),(0.2,3),(0.3,1.8),(0.4,2.6),(0.5,1.6),(0.6,2.3),(0.7,1.4),(0.8,2.0),(0.9,1.3),(1.0,1.8),(1.1,1.1),(1.2,1.6),(1.3,1.0),(1.4,1.4),(1.5,0.9),(1.6,1.3),(1.7,0.8),(1.8,1.15),(1.9,0.7),(2.0,1.0),(2.1,0.65),(2.2,0.9),(2.3,0.55),(2.4,0.45),(1.9,1.9),(2.2,1.5),
         (0.05,2.6),(0.15,2.3),(0.25,2.4),(0.35,2.1),(0.45,2.0),(0.55,1.9),(0.65,1.8),(0.75,1.6),(0.85,1.6),(0.95,1.4),(1.05,1.4),(1.15,1.3),(1.25,1.2),(1.35,1.2),(1.45,1.1),(1.55,1.0),(1.65,1.0),(1.75,0.95),(1.85,0.9),(1.95,0.85),(2.05,0.8),(2.15,0.75),(2.25,0.7),(2.35,0.6),
         (2.6,2),(2.7,1.4),(2.8,2.5),(2.9,1.6),(3.0,3),(3.1,1.8),(3.2,2.6),(3.3,1.5),(3.4,2.8),(3.5,1.7),(3.6,2.4),(3.7,1.4),(3.8,2.6),(3.9,1.6),(4.0,2.2),(4.1,1.3),(4.2,2.6),(4.3,1.5),(4.4,2.2),(4.5,1.3),(4.6,2.5),(4.7,1.5),(4.8,2),(4.9,1.3),(4.95,2.3),(2.7,3.5),(3.5,1.1),
         (2.55,1.6),(2.65,2.2),(2.75,1.8),(2.85,2.0),(2.95,1.7),(3.05,2.2),(3.15,2.0),(3.25,2.2),(3.35,1.9),(3.45,2.0),(3.55,2.1),(3.65,1.8),(3.75,2.0),(3.85,2.1),(3.95,1.8),(4.05,1.9),(4.15,2.0),(4.25,1.8),(4.35,1.7),(4.45,2.0),(4.55,1.8),(4.65,1.9),(4.75,1.7),(4.85,1.8),(4.92,1.6)]

C3_EE_L = [(-0.9,3.5),(-0.75,5.5),(-0.65,8),(-0.55,14),(-0.45,25),(-0.38,42),(-0.33,63),(-0.28,110),(-0.23,200),(-0.18,350),(-0.12,630),(-0.08,1000)]
C3_EE_R = [(0.1,1000),(0.18,630),(0.23,350),(0.28,200),(0.33,120),(0.4,63),(0.5,30),(0.6,16),(0.7,9.5),(0.8,6.5),(0.9,4.5),(1.0,3.2),(1.2,1.8),(1.4,1.1),(1.6,0.82),(1.8,0.63),(2.0,0.5)]
C3_EE = [(-4.9,1.1),(-4.9,0.75),(-4.9,0.5),(-4.8,1.1),(-4.8,0.78),(-4.8,0.55),(-4.7,1.2),(-4.7,0.82),(-4.6,1.25),(-4.6,0.86),(-4.5,1.3),(-4.5,0.9),(-4.4,1.35),(-4.4,0.95),(-4.3,1.45),(-4.3,1.0),(-4.2,1.5),(-4.2,1.05),(-4.1,1.6),(-4.1,1.1),(-4.0,1.7),(-4.0,1.15),(-3.9,1.8),(-3.9,1.2),(-3.8,1.9),(-3.8,1.3),(-3.7,2.0),(-3.7,1.4),(-3.6,2.1),(-3.6,1.5),(-3.5,2.2),(-3.5,1.55),(-3.4,2.3),(-3.4,1.6),(-3.3,2.4),(-3.3,1.7),(-3.2,2.6),(-3.2,1.8),(-3.1,2.7),(-3.1,1.9),(-3.0,2.8),(-3.0,2.0),(-2.9,3.0),(-2.8,3.2),(-2.8,2.2),(-2.7,3.4),(-2.6,3.6),(-2.6,2.5),(-2.5,3.8),(-2.4,4.2),(-2.3,4.6),(-2.2,5.5),(-2.1,6.5),(-2.0,7),(-1.85,8),(-1.7,7),
         (-4.85,0.9),(-4.75,0.95),(-4.65,1.0),(-4.55,1.05),(-4.45,1.1),(-4.35,1.18),(-4.25,1.25),(-4.15,1.3),(-4.05,1.38),(-3.95,1.45),(-3.85,1.55),(-3.75,1.65),(-3.65,1.75),(-3.55,1.85),(-3.45,1.9),(-3.35,2.0),(-3.25,2.1),(-3.15,2.25),(-3.05,2.35),(-2.95,2.5),(-2.85,2.65),(-2.75,2.8),(-2.65,3.0),(-2.55,3.2),
         (-2.27,0.45),(-2.1,0.55),(-1.9,0.7),(-1.7,0.95),(-1.48,1.26),(-1.27,1.6),(-1.06,2.0),
         (0.45,55),(0.6,22),(0.8,8.5),(1.0,4.2),(1.2,2.4),(1.4,1.5),(1.6,1.1),(1.8,0.85),
         (2.1,1.1),(2.1,0.75),(2.2,1.0),(2.2,0.7),(2.3,0.95),(2.3,0.65),(2.4,0.88),(2.4,0.6),(2.5,0.82),(2.5,0.56),(2.6,0.76),(2.6,0.52),(2.7,0.7),(2.7,0.48),(2.8,0.65),(2.8,0.44),(2.9,0.6),(2.9,0.41),(3.0,0.55),(3.0,0.38),(3.1,0.5),(3.1,0.35),(3.2,0.47),(3.2,0.32),(3.3,0.43),(3.3,0.3),(3.4,0.4),(3.4,0.28),(3.5,0.37),(3.5,0.26),(3.6,0.34),(3.6,0.24),(3.7,0.31),(3.7,0.22),(3.8,0.29),(3.8,0.2),(3.9,0.27),(3.9,0.19),(4.0,0.25),(4.0,0.18),(4.1,0.23),(4.1,0.17),(4.2,0.21),(4.2,0.16),(4.3,0.2),(4.3,0.15),(4.4,0.18),(4.4,0.14),(4.5,0.17),(4.5,0.13),(4.6,0.16),(4.6,0.125),(4.7,0.15),(4.7,0.12),(4.75,0.12),
         (2.15,0.9),(2.35,0.78),(2.55,0.68),(2.75,0.58),(2.95,0.5),(3.15,0.42),(3.35,0.36),(3.55,0.31),(3.75,0.27),(3.95,0.23),(4.15,0.2),(4.35,0.17),(4.55,0.15),
         (0.6,80),(0.75,50),(0.92,32),(1.08,20),(1.23,12.6),(1.45,8),(1.65,5),(1.8,3.5),(1.96,2.5),(2.1,2.0),(2.27,1.6),(2.45,1.3),
         (4.55,0.8),(4.65,0.7),(4.75,0.75),(4.85,0.65),(4.9,0.7)]
C3_EP = [(-4.95,4),(-4.9,2.5),(-4.9,1.2),(-4.9,0.6),(-4.85,0.4),(-4.8,0.9),(-4.8,0.5),(-4.75,0.3),(-4.7,0.7),(-4.65,0.45),(-4.6,0.9),(-4.55,0.35),(-4.5,0.6),(-4.45,0.25),(-4.4,0.5),(-4.3,0.8),(-4.2,0.45),(-4.1,0.7),(-4.0,0.5),(-3.9,0.9),(-3.8,0.6),(-3.7,1.0),(-3.6,0.8),(-3.5,1.2),(-3.4,1.0),
         (-4.92,1.6),(-4.88,0.8),(-4.82,0.6),(-4.78,0.4),(-4.72,0.55),(-4.68,0.35),(-4.62,0.6),(-4.52,0.45),(-4.48,0.75),(-4.42,0.35),(-4.35,0.6),(-4.25,0.7),(-4.15,0.55),(-4.05,0.8),(-3.95,0.65),(-3.85,0.9),(-3.75,0.75),(-3.65,1.1),(-3.55,0.9),(-3.45,1.3),
         (-3.3,1.5),(-3.2,2),(-3.1,1.6),(-3.0,3),(-2.9,2.2),(-2.8,4),(-2.7,2.8),(-2.6,5),(-2.5,3.2),(-2.4,6),(-2.3,4),(-2.2,7),(-2.1,4.5),(-2.0,6),(-1.9,8),(-1.85,11),(-1.8,5),(-1.7,3.5),(-1.6,2.8),(-1.5,2.2),(-2.6,2.2),(-2.2,2.6),
         (-3.25,1.7),(-3.15,1.3),(-3.05,2.2),(-2.95,1.8),(-2.85,2.6),(-2.75,2.0),(-2.65,3.2),(-2.55,2.6),(-2.45,3.8),(-2.35,3),(-2.25,4.5),(-2.15,3.2),(-2.05,4.8),(-1.95,5.5),(-1.75,4.5),(-1.65,3),(-1.55,2.5),(-1.45,1.8),(-1.35,2.0),
         (-1.3,1.5),(-1.2,2),(-1.1,1.3),(-1.0,1.8),(-0.9,1.2),(-0.8,1.7),(-0.7,1.3),(-0.6,1.9),(-0.5,1.4),(-0.4,1.8),(-0.3,1.2),(-0.2,1.6),(-0.1,1.3),(0.0,1.7),
         (-1.25,1.6),(-1.15,1.5),(-1.05,1.4),(-0.95,1.5),(-0.85,1.3),(-0.75,1.5),(-0.65,1.4),(-0.55,1.6),(-0.45,1.3),(-0.35,1.5),(-0.25,1.4),(-0.15,1.5),(-0.05,1.4),
         (0.1,1.4),(0.2,1.1),(0.3,1.5),(0.4,0.95),(0.5,1.2),(0.6,0.8),(0.7,1.1),(0.8,0.7),(0.9,0.95),(1.0,0.6),(1.1,0.85),(1.2,0.5),(1.3,0.75),(1.4,0.45),(1.5,0.65),(1.6,0.38),(1.7,0.55),(1.8,0.32),(1.9,0.45),(1.95,0.25),(2.0,0.35),(0.7,0.3),(1.0,0.35),(0.4,0.45),
         (0.05,1.2),(0.15,1.3),(0.25,1.0),(0.35,1.1),(0.45,0.85),(0.55,1.0),(0.65,0.75),(0.75,0.85),(0.85,0.65),(0.95,0.75),(1.05,0.55),(1.15,0.65),(1.25,0.5),(1.35,0.55),(1.45,0.4),(1.55,0.48),(1.65,0.35),(1.75,0.42),(1.85,0.3),(1.92,0.38),
         (2.1,0.7),(2.2,1.0),(2.3,0.65),(2.4,0.95),(2.5,0.7),(2.6,1.0),(2.7,0.68),(2.8,1.0),(2.9,0.72),(3.0,0.95),(3.1,0.7),(3.2,1.05),(3.3,0.75),(3.4,1.0),(3.5,0.72),(3.6,1.05),(3.7,0.8),(3.8,1.1),(3.9,0.8),(4.0,1.1),(2.5,0.45),(3.2,0.5),(3.7,0.55),
         (2.05,0.6),(2.15,0.8),(2.25,0.75),(2.35,0.8),(2.45,0.8),(2.55,0.85),(2.65,0.8),(2.75,0.85),(2.85,0.8),(2.95,0.85),(3.05,0.8),(3.15,0.85),(3.25,0.85),(3.35,0.9),(3.45,0.85),(3.55,0.9),(3.65,0.9),(3.75,0.95),(3.85,0.9),(3.95,0.95),
         (4.1,1.2),(4.2,0.9),(4.3,1.5),(4.4,1.1),(4.5,2),(4.5,2.8),(4.6,1.5),(4.7,2.5),(4.75,4),(4.8,3),(4.85,5),(4.85,16),(4.8,8),(4.4,0.7),(4.6,0.8),
         (4.05,1.0),(4.15,1.0),(4.25,1.2),(4.35,1.0),(4.45,1.4),(4.55,1.3),(4.65,1.8),(4.7,1.5),(4.75,2.5),(4.8,2),(4.85,3.5)]

PANELS = [[(A1_EE, A1_EE_L, A1_EE_R, A1_EP), (B1_EE, B1_EE_L, B1_EE_R, B1_EP), (C1_EE, C1_EE_L, C1_EE_R, C1_EP)],
          [(A2_EE, A2_EE_L, A2_EE_R, A2_EP), (B2_EE, B2_EE_L, B2_EE_R, B2_EP), (C2_EE, C2_EE_L, C2_EE_R, C2_EP)],
          [(A3_EE, A3_EE_L, A3_EE_R, A3_EP), (B3_EE, B3_EE_L, B3_EE_R, B3_EP), (C3_EE, C3_EE_L, C3_EE_R, C3_EP)]]
LETTERS = ["a", "b", "c"]

# ---------------- styling ----------------
ORANGE = "#FF8A14"
BLUE = "#1515C8"
W, H = 550, 606
fig = plt.figure(figsize=(W / 100, H / 100), dpi=100)

col_left = [43, 213, 381]
col_w = [159, 159, 160]
row_top = [21, 207, 397]
row_h = [167, 167, 166]
ylims = [(0, 500), (0.1, 1000), (0.01, 1000)]
label_x = [-0.205, -0.19, -0.19]
label_fs = [11, 11.5, 11.5]

for r in range(3):
    for c in range(3):
        ax = fig.add_axes([col_left[c] / W, 1 - (row_top[r] + row_h[r]) / H, col_w[c] / W, row_h[r] / H])
        ee, ee_l, ee_r, ep = PANELS[r][c]
        ex, ey = zip(*ep)
        ax.scatter(ex, ey, s=21, marker='o', color=BLUE, alpha=0.55, linewidths=0, zorder=2)
        ox, oy = zip(*ee)
        ax.scatter(ox, oy, s=19, marker='o', color=ORANGE, alpha=0.6, linewidths=0, zorder=3)
        lx, ly = zip(*ee_l)
        ax.plot(lx, ly, color=ORANGE, lw=2.4, alpha=0.85, solid_capstyle='round', zorder=3)
        rx, ry = zip(*ee_r)
        ax.plot(rx, ry, color=ORANGE, lw=3.3, alpha=0.95, solid_capstyle='round', zorder=3)
        ax.axvline(0, color='black', ls=(0, (1, 1.5)), lw=0.8, zorder=4)
        ax.set_xlim(-4.95, 5.0)
        if r == 0:
            ax.set_ylim(*ylims[r])
            ax.yaxis.set_major_locator(FixedLocator([0, 300]))
        else:
            ax.set_yscale('log')
            ax.set_ylim(*ylims[r])
            ax.yaxis.set_major_locator(LogLocator(base=10, numticks=10))
            ax.yaxis.set_minor_locator(LogLocator(base=10, subs=range(2, 10), numticks=10))
            ax.yaxis.set_minor_formatter(NullFormatter())
        ax.xaxis.set_major_locator(FixedLocator([-4, -2, 0, 2, 4]))
        ax.xaxis.set_minor_locator(FixedLocator([-3, -1, 1, 3]))
        ax.tick_params(axis='both', which='both', direction='in', colors='#555555',
                       labelcolor='black', labelsize=9.5, pad=2)
        ax.tick_params(which='major', length=3, width=0.7)
        ax.tick_params(which='minor', length=1.5, width=0.5)
        for sp in ax.spines.values():
            sp.set_color('#8a8a8a')
            sp.set_linewidth(1.1)
        if c != 0:
            ax.tick_params(labelleft=False)
        else:
            ax.set_ylabel(ROW_LABELS[r], fontsize=label_fs[r], va='center')
            ax.yaxis.set_label_coords(label_x[r], 0.5)
        if r != 2:
            ax.tick_params(labelbottom=False)
        else:
            ax.set_xlabel("Energy  (eV)", fontsize=11.5, labelpad=1)
        ax.text(0.03, 0.965, r"$\mathbf{(%s}_{\mathbf{%d}}\mathbf{)}$" % (LETTERS[c], r + 1),
                transform=ax.transAxes, ha='left', va='top', fontsize=12, zorder=6)
        if r == 0:
            trans = mtransforms.blended_transform_factory(ax.transData, ax.transAxes)
            ax.text(0, 1.015, COLUMNS[c], transform=trans, ha='center', va='bottom', fontsize=11)
        if r == 0 and c == 0:
            handles = [Line2D([], [], ls='', marker='o', ms=4, color=ORANGE, alpha=0.6, mec='none'),
                       Line2D([], [], ls='', marker='o', ms=4, color=BLUE, alpha=0.55, mec='none')]
            ax.legend(handles, SERIES, loc='upper right', frameon=False, fontsize=8.5,
                      handletextpad=0.1, handlelength=1.0, borderaxespad=0.15, labelspacing=0.1,
                      borderpad=0.2)

fig.savefig("out.png", dpi=100)
